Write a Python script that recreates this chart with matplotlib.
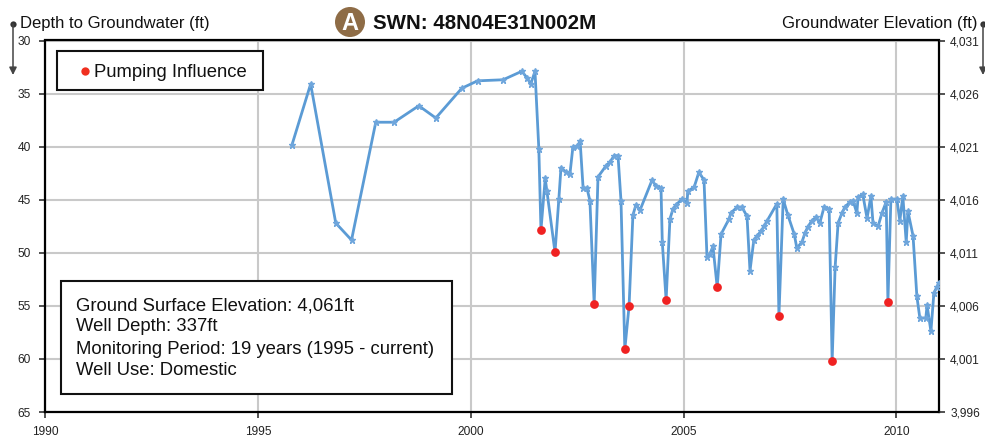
import matplotlib
matplotlib.use("Agg")
import matplotlib.pyplot as plt
from matplotlib.patches import Rectangle, Circle

plt.rcParams['font.family'] = ['Liberation Sans', 'DejaVu Sans']

years = [1995.80, 1996.24, 1996.83, 1997.20, 1997.77, 1998.20, 1998.78, 1999.18, 1999.79, 2000.16,
         2000.76, 2001.20, 2001.32, 2001.41, 2001.51, 2001.60, 2001.65, 2001.75, 2001.79, 2001.98,
         2002.07, 2002.12, 2002.24, 2002.33, 2002.40, 2002.50, 2002.57, 2002.64, 2002.73, 2002.80,
         2002.90, 2002.99, 2003.18, 2003.27, 2003.37, 2003.46, 2003.53, 2003.62, 2003.72, 2003.81,
         2003.88, 2003.98, 2004.26, 2004.35, 2004.47, 2004.50, 2004.59, 2004.68, 2004.75, 2004.82,
         2004.96, 2005.08, 2005.10, 2005.25, 2005.36, 2005.48, 2005.55, 2005.62, 2005.69, 2005.79,
         2005.88, 2006.07, 2006.11, 2006.26, 2006.37, 2006.49, 2006.56, 2006.65, 2006.73, 2006.82,
         2006.89, 2006.96, 2007.19, 2007.24, 2007.34, 2007.45, 2007.60, 2007.66, 2007.78, 2007.85,
         2007.92, 2008.01, 2008.11, 2008.20, 2008.30, 2008.42, 2008.49, 2008.56, 2008.63, 2008.72,
         2008.79, 2008.91, 2008.98, 2009.07, 2009.10, 2009.21, 2009.31, 2009.40, 2009.45, 2009.57,
         2009.66, 2009.76, 2009.80, 2009.87, 2010.01, 2010.08, 2010.15, 2010.23, 2010.27, 2010.39,
         2010.48, 2010.55, 2010.69, 2010.72, 2010.81, 2010.88, 2010.95, 2011.00]

depths = [39.85, 34.10, 47.20, 48.80, 37.70, 37.70, 36.15, 37.30, 34.50, 33.80,
          33.70, 32.90, 33.50, 34.10, 32.90, 40.20, 47.85, 43.00, 44.20, 49.95,
          44.95, 42.00, 42.40, 42.60, 40.05, 39.95, 39.50, 43.90, 43.90, 45.10,
          54.85, 42.85, 41.80, 41.45, 40.85, 40.85, 45.10, 59.10, 55.00, 46.45,
          45.50, 45.95, 43.15, 43.70, 43.90, 49.00, 54.45, 46.80, 45.90, 45.50,
          44.95, 45.30, 44.20, 43.80, 42.40, 43.15, 50.40, 50.10, 49.40, 53.25,
          48.25, 46.80, 46.25, 45.70, 45.70, 46.55, 51.70, 48.80, 48.40, 47.95,
          47.50, 47.00, 45.40, 55.95, 44.95, 46.45, 48.25, 49.55, 49.00, 48.15,
          47.55, 47.00, 46.65, 47.20, 45.70, 45.90, 60.20, 51.35, 47.20, 46.25,
          45.70, 45.20, 45.10, 46.25, 44.75, 44.50, 46.75, 44.65, 47.20, 47.50,
          46.25, 45.20, 54.65, 44.95, 44.95, 47.00, 44.65, 49.00, 46.10, 48.40,
          54.10, 56.15, 56.15, 54.95, 57.40, 53.80, 53.20, 52.80]

pump_years = [2001.65, 2001.98, 2002.90, 2003.62, 2003.72, 2004.59, 2005.79, 2007.24, 2008.49, 2009.80]
pump_depths = [47.85, 49.95, 54.85, 59.10, 55.00, 54.45, 53.25, 55.95, 60.20, 54.65]

x_ticks = [1990, 1995, 2000, 2005, 2010]
depth_ticks = [30, 35, 40, 45, 50, 55, 60, 65]
elev_labels = ['4,031', '4,026', '4,021', '4,016', '4,011', '4,006', '4,001', '3,996']

W, H = 985, 436
fig = plt.figure(figsize=(W / 100, H / 100), dpi=100)
ax = fig.add_axes([45 / W, 1 - 412 / H, (939 - 45) / W, (412 - 40.5) / H])
ax.set_xlim(1990, 2011)
ax.set_ylim(65, 30)
ax.set_xticks(x_ticks)
ax.set_yticks(depth_ticks)
ax.grid(True, color='#C9C9C9', lw=1.5)
ax.set_axisbelow(True)
for s in ax.spines.values():
    s.set_linewidth(1.6)
    s.set_color('black')
ax.tick_params(axis='both', labelsize=8.6, length=4, width=1.1, colors='#222222')
ax.tick_params(axis='y', pad=6)
ax.tick_params(axis='x', pad=6)

ax.plot(years, depths, color='#5B9BD5', lw=2.0, marker='*', ms=4.5,
        mec='#6FA6DC', mfc='#6FA6DC', zorder=3)
ax.plot(pump_years, pump_depths, ls='none', marker='o', ms=6.3, color='#F02222', mec='none', zorder=4)

ax2 = ax.twinx()
ax2.set_ylim(65, 30)
ax2.set_yticks(depth_ticks)
ax2.set_yticklabels(elev_labels)
ax2.tick_params(axis='y', labelsize=8.6, length=4, width=1.1, colors='#222222', pad=4)
for s in ax2.spines.values():
    s.set_visible(False)

# pixel-space overlay for boxes, headers and arrows
ov = fig.add_axes([0, 0, 1, 1], zorder=10)
ov.set_xlim(0, W)
ov.set_ylim(H, 0)
ov.axis('off')
ov.patch.set_alpha(0)

ov.add_patch(Rectangle((56.5, 51), 206.5, 39.5, fc='white', ec='#111111', lw=1.5))
ov.plot([85], [71], marker='o', ms=6, color='#F03020', mec='none')
ov.text(94, 72.5, 'Pumping Influence', fontsize=13.3, color='#111111', va='center', ha='left')

ov.add_patch(Rectangle((60.5, 280.5), 391.5, 113.5, fc='white', ec='#111111', lw=1.5))
info = ['Ground Surface Elevation: 4,061ft', 'Well Depth: 337ft',
        'Monitoring Period: 19 years (1995 - current)', 'Well Use: Domestic']
for y, line in zip([305.5, 326.5, 349, 370.5], info):
    ov.text(76, y, line, fontsize=13.3, color='#111111', va='center', ha='left')

ov.text(20.5, 23.5, 'Depth to Groundwater (ft)', fontsize=12.0, color='#111111', va='center', ha='left')
ov.text(978, 23.5, 'Groundwater Elevation (ft)', fontsize=12.0, color='#111111', va='center', ha='right')
ov.text(373, 23.5, 'SWN: 48N04E31N002M', fontsize=14.8, fontweight='bold', color='#111111', va='center', ha='left')

ov.add_patch(Circle((350, 22), 15, fc='#8E6C46', ec='none'))
ov.text(350, 23, 'A', fontsize=17, fontweight='bold', color='white', ha='center', va='center')

for x in (13, 983):
    ov.plot([x], [24], marker='o', ms=4.5, color='#333333', mec='none', clip_on=False)
    ov.annotate('', xy=(x, 75), xytext=(x, 24),
                arrowprops=dict(arrowstyle='-|>', color='#444444', lw=1.1, mutation_scale=11, shrinkA=0, shrinkB=0))

fig.savefig('out.png', dpi=100)
